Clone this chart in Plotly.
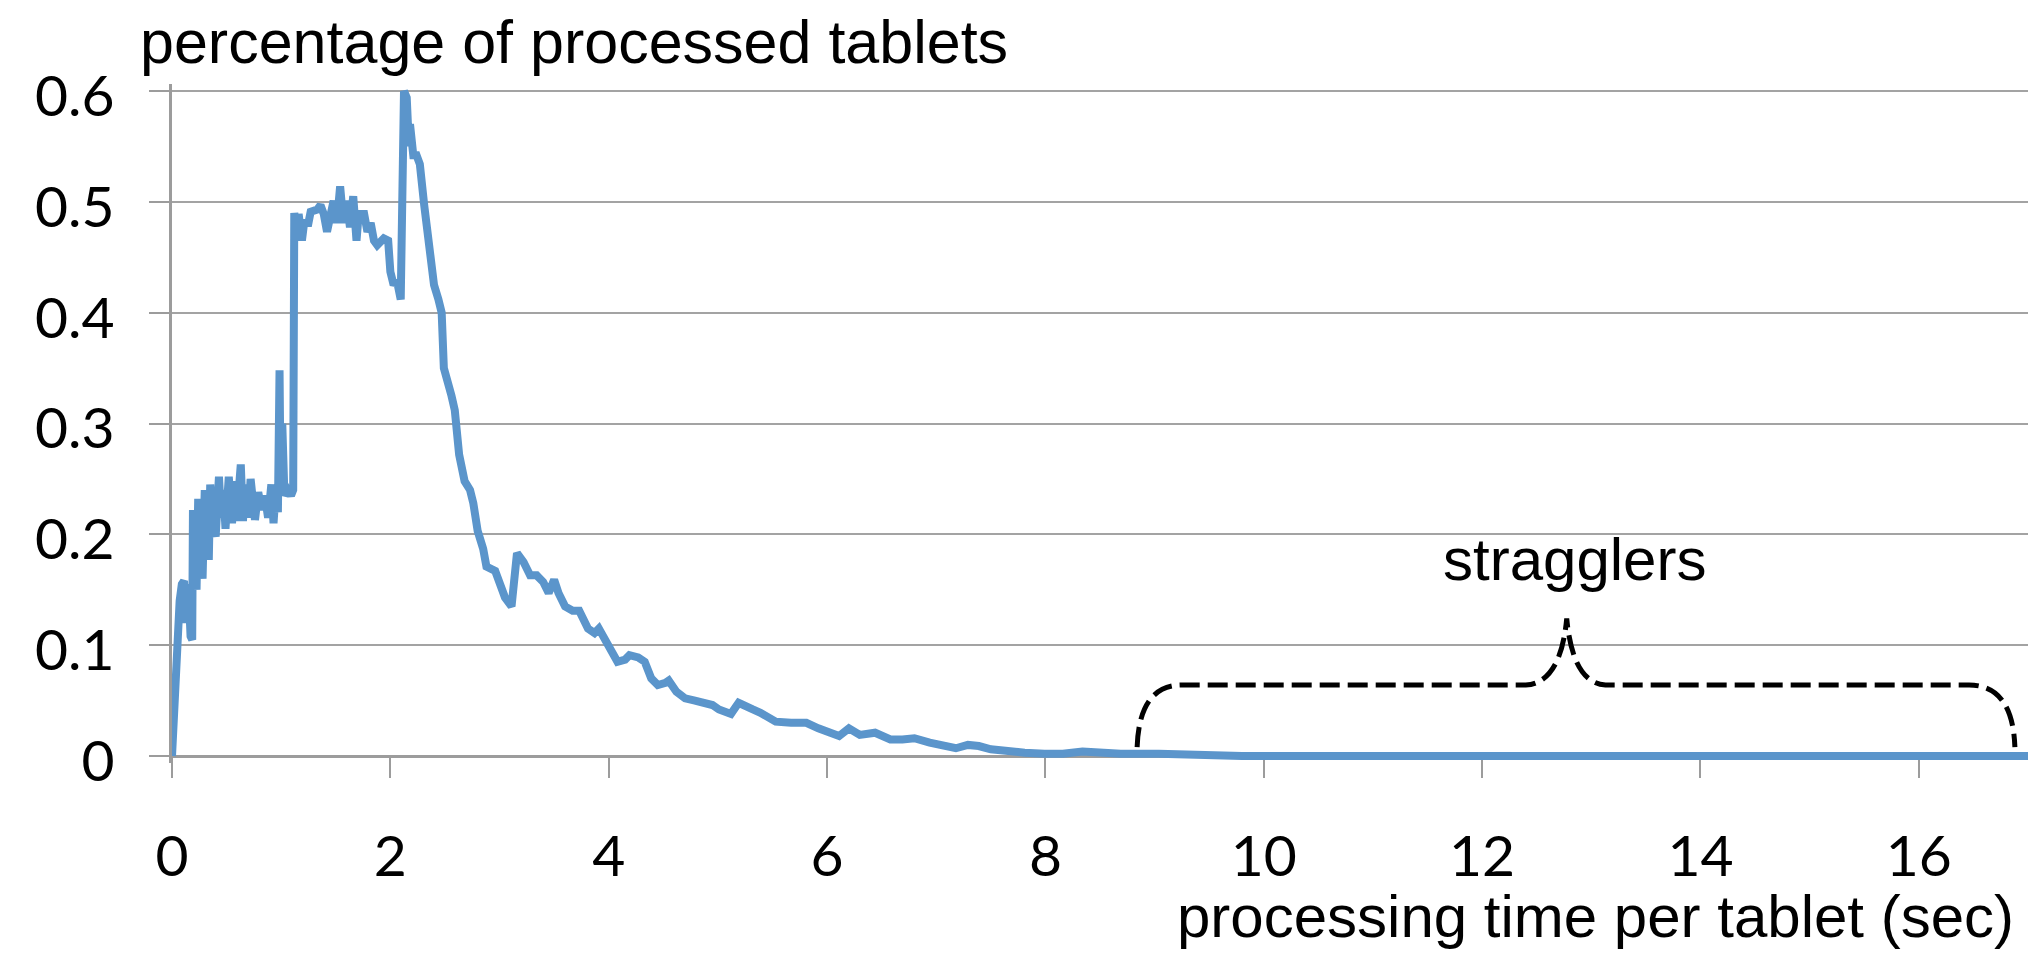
import plotly.graph_objects as go

# Processing time per tablet (seconds) and the share of tablets finishing at that time
time_sec = [
    0.000, 0.020, 0.045, 0.070, 0.090, 0.110, 0.130, 0.150, 0.170, 0.185,
    0.192, 0.210, 0.225, 0.240, 0.260, 0.280, 0.300, 0.320, 0.337, 0.350,
    0.370, 0.400, 0.430, 0.450, 0.470, 0.490, 0.520, 0.550, 0.570, 0.590,
    0.630, 0.650, 0.670, 0.700, 0.720, 0.760, 0.790, 0.820, 0.850, 0.880,
    0.910, 0.930, 0.950, 0.970, 0.985, 0.995, 1.010, 1.030, 1.060, 1.090,
    1.110, 1.120, 1.145, 1.160, 1.190, 1.210, 1.250, 1.270, 1.330, 1.360,
    1.390, 1.420, 1.450, 1.480, 1.510, 1.540, 1.570, 1.600, 1.630, 1.660,
    1.690, 1.710, 1.760, 1.790, 1.820, 1.850, 1.880, 1.940, 1.980, 2.000,
    2.030, 2.060, 2.095, 2.125, 2.150, 2.170, 2.180, 2.210, 2.240, 2.270,
    2.310, 2.340, 2.370, 2.400, 2.440, 2.470, 2.490, 2.520, 2.560, 2.590,
    2.630, 2.680, 2.730, 2.760, 2.800, 2.850, 2.880, 2.960, 3.000, 3.050,
    3.110, 3.160, 3.220, 3.280, 3.340, 3.400, 3.450, 3.500, 3.540, 3.600,
    3.670, 3.730, 3.810, 3.870, 3.910, 3.960, 4.020, 4.080, 4.150, 4.190,
    4.270, 4.330, 4.390, 4.450, 4.520, 4.550, 4.620, 4.700, 4.790, 4.850,
    4.950, 5.010, 5.120, 5.190, 5.260, 5.320, 5.390, 5.530, 5.670, 5.810,
    5.920, 6.020, 6.110, 6.200, 6.300, 6.440, 6.580, 6.690, 6.800, 6.940,
    7.080, 7.180, 7.290, 7.390, 7.500, 7.640, 7.810, 7.990, 8.160, 8.340,
    8.510, 8.690, 9.040, 9.390, 9.800, 17.000,
]
share = [
    0.000, 0.045, 0.100, 0.140, 0.155, 0.158, 0.120, 0.155, 0.108, 0.105,
    0.222, 0.190, 0.150, 0.232, 0.200, 0.160, 0.240, 0.200, 0.177, 0.245,
    0.210, 0.198, 0.252, 0.215, 0.240, 0.205, 0.252, 0.210, 0.248, 0.212,
    0.263, 0.212, 0.245, 0.215, 0.250, 0.213, 0.238, 0.222, 0.235, 0.215,
    0.245, 0.210, 0.240, 0.220, 0.348, 0.240, 0.300, 0.235, 0.240, 0.235,
    0.240, 0.490, 0.465, 0.489, 0.465, 0.481, 0.481, 0.491, 0.493, 0.497,
    0.489, 0.473, 0.493, 0.501, 0.481, 0.514, 0.481, 0.501, 0.477, 0.505,
    0.465, 0.489, 0.489, 0.473, 0.481, 0.465, 0.461, 0.467, 0.465, 0.437,
    0.425, 0.429, 0.412, 0.600, 0.594, 0.550, 0.570, 0.542, 0.542, 0.534,
    0.497, 0.477, 0.450, 0.425, 0.412, 0.400, 0.350, 0.336, 0.325, 0.312,
    0.272, 0.248, 0.240, 0.228, 0.203, 0.187, 0.171, 0.167, 0.155, 0.143,
    0.135, 0.183, 0.175, 0.163, 0.163, 0.157, 0.147, 0.159, 0.147, 0.135,
    0.131, 0.131, 0.115, 0.111, 0.115, 0.107, 0.095, 0.085, 0.087, 0.091,
    0.089, 0.085, 0.070, 0.064, 0.066, 0.068, 0.058, 0.052, 0.050, 0.048,
    0.046, 0.042, 0.038, 0.048, 0.044, 0.042, 0.039, 0.031, 0.030, 0.030,
    0.025, 0.021, 0.018, 0.025, 0.019, 0.021, 0.015, 0.015, 0.016, 0.012,
    0.010, 0.007, 0.010, 0.009, 0.006, 0.004, 0.003, 0.002, 0.002, 0.004,
    0.003, 0.002, 0.002, 0.001, 0.000, 0.000,
]

x_ticks = [0, 2, 4, 6, 8, 10, 12, 14, 16]
y_ticks = [0, 0.1, 0.2, 0.3, 0.4, 0.5, 0.6]

y_title = "percentage of processed tablets"
x_title = "processing time per tablet (sec)"
straggler_label = "stragglers"

# canvas geometry (pixels)
W, H = 2028, 954
M_L, M_R, M_T, M_B = 172, 0, 84, 191
plot_h = H - M_T - M_B
y_pad_px = 7
y_span = 0.6
px_per_unit = (plot_h - 2 * y_pad_px) / y_span
y_pad = y_pad_px / px_per_unit

BLUE = "#5B95CB"
GRID = "#A3A3A3"
AXIS = "#9C9C9C"
TEXT_FONT = "Liberation Sans, Arial, sans-serif"
TICK_FONT = "Lato"

fig = go.Figure()
fig.add_trace(go.Scatter(
    x=time_sec, y=share, mode="lines",
    line=dict(color=BLUE, width=8, shape="linear"),
    showlegend=False, hoverinfo="skip",
))

# curly brace over the straggler tail
brace = (
    "M 8.84,0.008 Q 8.86,0.064 9.25,0.064 "
    "L 12.40,0.064 Q 12.72,0.066 12.775,0.124 "
    "Q 12.83,0.066 13.13,0.064 "
    "L 16.46,0.064 Q 16.86,0.064 16.88,0.008"
)
fig.add_shape(type="path", path=brace, xref="x", yref="y",
              line=dict(color="black", width=5, dash="20px,8px"))

fig.add_annotation(x=12.85, y=0.1773, xref="x", yref="y", text=straggler_label,
                   showarrow=False, xanchor="center", yanchor="middle",
                   font=dict(family=TEXT_FONT, size=60, color="black"))

fig.add_annotation(x=(2016 - M_L) / (W - M_L - M_R), xref="paper", xanchor="right",
                   y=-(916 - (H - M_B)) / plot_h, yref="paper", yanchor="middle",
                   text=x_title, showarrow=False,
                   font=dict(family=TEXT_FONT, size=60, color="black"))

fig.update_layout(
    width=W, height=H,
    margin=dict(l=M_L, r=M_R, t=M_T, b=M_B, pad=0),
    paper_bgcolor="white", plot_bgcolor="white",
    title=dict(text=y_title, x=140 / W, xanchor="left", xref="container",
               y=1 - 42 / H, yanchor="middle", yref="container",
               font=dict(family=TEXT_FONT, size=61, color="black")),
    xaxis=dict(
        range=[0, 17], tickvals=x_ticks, ticktext=[str(v) for v in x_ticks],
        anchor="free", position=y_pad_px / plot_h,
        showgrid=False, zeroline=False,
        showline=True, linecolor=AXIS, linewidth=3,
        ticks="outside", ticklen=20, tickwidth=2, tickcolor=AXIS,
        tickfont=dict(family=TICK_FONT, size=57, color="black"),
        ticklabelstandoff=30, layer="below traces",
    ),
    yaxis=dict(
        range=[-y_pad, y_span + y_pad], tickvals=y_ticks,
        ticktext=["0" if v == 0 else f"{v:.1f}" for v in y_ticks],
        showgrid=True, gridcolor=GRID, gridwidth=2, zeroline=False,
        showline=True, linecolor=AXIS, linewidth=3,
        ticks="outside", ticklen=20, tickwidth=2, tickcolor=AXIS,
        tickfont=dict(family=TICK_FONT, size=57, color="black"),
        ticklabelstandoff=23, ticklabelshift=5, layer="below traces",
    ),
)

fig.write_html("out.html")
